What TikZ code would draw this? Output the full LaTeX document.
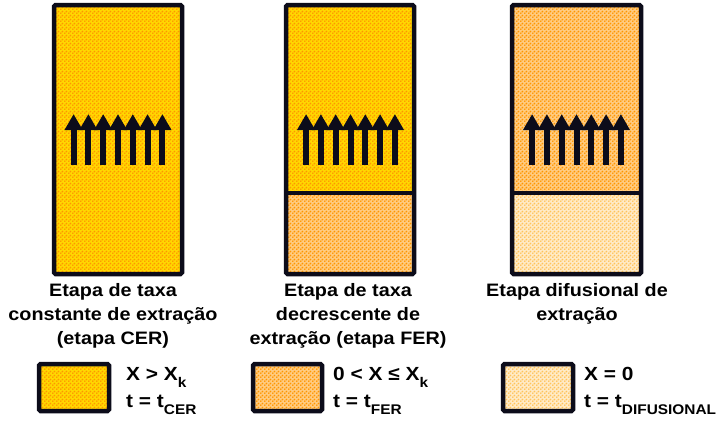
\documentclass[tikz,border=0pt]{standalone}
\usepackage{fontspec}
\setmainfont{Liberation Sans}[FakeStretch=1.1]
\usetikzlibrary{patterns.meta,arrows.meta}
\definecolor{contorno}{RGB}{12,12,26}
\definecolor{amarelo}{RGB}{255,215,0}
\definecolor{laranja}{RGB}{255,150,0}
\definecolor{laranjaclaro}{RGB}{255,195,90}
\newcommand{\indice}[1]{\raisebox{-0.38em}{\fontsize{14}{14}\selectfont #1}}

\tikzdeclarepattern{
  name=pontos,
  type=uncolored,
  bounding box={(0pt,0pt) and (4pt,4pt)},
  tile size={(4pt,4pt)},
  code={
    \pgfpathcircle{\pgfpoint{1pt}{1pt}}{1.15pt}
    \pgfpathcircle{\pgfpoint{3pt}{3pt}}{1.15pt}
    \pgfusepath{fill}
  }
}

\tikzset{
  cer/.style={preaction={fill=amarelo}, pattern=pontos, pattern color=laranja},
  fer/.style={preaction={fill=laranja!50!white}, pattern=pontos, pattern color=laranja},
  dif/.style={preaction={fill=laranjaclaro!35!white}, pattern=pontos, pattern color=laranjaclaro},
  moldura/.style={draw=contorno, line width=4.5pt, rounded corners=1.5pt},
  fluxo/.style={draw=contorno, line width=6pt, -{Triangle[width=17pt,length=16pt]}},
  rotulo/.style={align=center, inner sep=0pt, anchor=north, font=\fontsize{18}{24}\selectfont\bfseries},
  legenda/.style={align=left, inner sep=0pt, anchor=north west, font=\fontsize{19}{27}\selectfont\bfseries}
}

\begin{document}
\begin{tikzpicture}[x=1pt, y=-1pt]
			\useasboundingbox (0,0) rectangle (719,421);
			\def\topo{5}
			\def\base{274}
			\def\corte{193}
			\def\passo{14.8}
			\path[cer] (54,\topo) rectangle (182,\base);
			\path[cer] (286,\topo) rectangle (414,\corte);
			\path[fer] (286,\corte) rectangle (414,\base);
			\path[fer] (512,\topo) rectangle (641,\corte);
			\path[dif] (512,\corte) rectangle (641,\base);
			\draw[moldura] (54,\topo) rectangle (182,\base);
			\draw[moldura] (286,\topo) rectangle (414,\base);
			\draw[moldura] (512,\topo) rectangle (641,\base);
			\draw[draw=contorno, line width=4.5pt] (286,\corte) -- (414,\corte);
			\draw[draw=contorno, line width=4.5pt] (512,\corte) -- (641,\corte);
			\foreach \cx in {118,350.5,576.5}
				\foreach \i in {-3,...,3}
					\draw[fluxo] (\cx+\i*\passo,165) -- (\cx+\i*\passo,114);
			\node[rotulo] (rotCER) at (113,283) {Etapa de taxa\\constante de extração\\(etapa CER)};
			\node[rotulo] (rotFER) at (348,283) {Etapa de taxa\\decrescente de\\extração (etapa FER)};
			\node[rotulo] (rotDIF) at (577,283) {Etapa difusional de\\extração};
			\path[cer] (39,364) rectangle (109,411);
			\path[fer] (253,364) rectangle (322,411);
			\path[dif] (503,364) rectangle (573,411);
			\draw[moldura] (39,364) rectangle (109,411);
			\draw[moldura] (253,364) rectangle (322,411);
			\draw[moldura] (503,364) rectangle (573,411);
			\node[legenda] (legCER) at (126,367) {X > X\indice{k}\\t = t\indice{CER}};
			\node[legenda] (legFER) at (333,367) {0 < X ≤ X\indice{k}\\t = t\indice{FER}};
			\node[legenda] (legDIF) at (584,367) {X = 0\\t = t\indice{DIFUSIONAL}};
		\end{tikzpicture}
\end{document}
